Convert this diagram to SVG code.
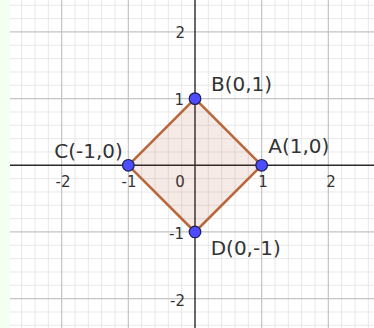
<svg xmlns="http://www.w3.org/2000/svg" width="374" height="328" viewBox="0 0 374 328">
<style>
.minor{stroke:#e8e8e8;stroke-width:1;fill:none}
.major{stroke:#c4c4c4;stroke-width:1.2;fill:none}
.axis{stroke:#2a2a2a;stroke-width:1.4;fill:none}
.tick{font-family:"DejaVu Sans",sans-serif;font-size:15px;fill:#333}
.lbl{font-family:"DejaVu Sans",sans-serif;font-size:20px;fill:#333}
.pt{fill:#4d4dff;stroke:#1c1c50;stroke-width:1.2}
.edge{stroke:#b8683c;stroke-width:2.6;fill:none;stroke-linejoin:round}
</style>
<rect x="0" y="0" width="374" height="328" fill="#ffffff"/>
<rect x="0" y="0" width="10" height="328" fill="#f2fff2"/>
<g id="grid">
<path class="minor" d="M21.67 0V328M35 0V328M48.33 0V328M75 0V328M88.33 0V328M101.67 0V328M115 0V328M141.67 0V328M155 0V328M168.33 0V328M181.67 0V328M208.33 0V328M221.67 0V328M235 0V328M248.33 0V328M275 0V328M288.33 0V328M301.67 0V328M315 0V328M341.67 0V328M355 0V328M368.33 0V328
M10 5.3H374M10 18.63H374M10 45.3H374M10 58.63H374M10 71.97H374M10 85.3H374M10 111.97H374M10 125.3H374M10 138.63H374M10 151.97H374M10 178.63H374M10 191.97H374M10 205.3H374M10 218.63H374M10 245.3H374M10 258.63H374M10 271.97H374M10 285.3H374M10 311.97H374M10 325.3H374"/>
<path class="major" d="M61.67 0V328M128.33 0V328M261.67 0V328M328.33 0V328M10 31.97H374M10 98.63H374M10 231.97H374M10 298.63H374"/>
<path class="axis" d="M10 165.3H374M195 0V328"/>
</g>
<g id="ticks">
<text class="tick" x="63" y="187" text-anchor="middle">-2</text>
<text class="tick" x="129" y="187" text-anchor="middle">-1</text>
<text class="tick" x="180" y="187" text-anchor="middle">0</text>
<text class="tick" x="263" y="187" text-anchor="middle">1</text>
<text class="tick" x="331" y="187" text-anchor="middle">2</text>
<text class="tick" x="185" y="38.3" text-anchor="end">2</text>
<text class="tick" x="184" y="105" text-anchor="end">1</text>
<text class="tick" x="184" y="238.7" text-anchor="end">-1</text>
<text class="tick" x="185" y="305.7" text-anchor="end">-2</text>
</g>
<g id="connectors">
<polygon class="edge" points="261.67,165.3 195,98.63 128.33,165.3 195,231.97" fill="#993300" fill-opacity="0.1" style="fill:#993300;fill-opacity:0.1"/>
</g>
<g id="A"><circle class="pt" cx="261.67" cy="165.3" r="5.8"/><text class="lbl" x="268.3" y="152.7">A(1,0)</text></g>
<g id="B"><circle class="pt" cx="195" cy="98.63" r="5.8"/><text class="lbl" x="211" y="90.5">B(0,1)</text></g>
<g id="C"><circle class="pt" cx="128.33" cy="165.3" r="5.8"/><text class="lbl" x="54.3" y="158.3">C(-1,0)</text></g>
<g id="D"><circle class="pt" cx="195" cy="231.97" r="5.8"/><text class="lbl" x="210.7" y="255">D(0,-1)</text></g>
</svg>
